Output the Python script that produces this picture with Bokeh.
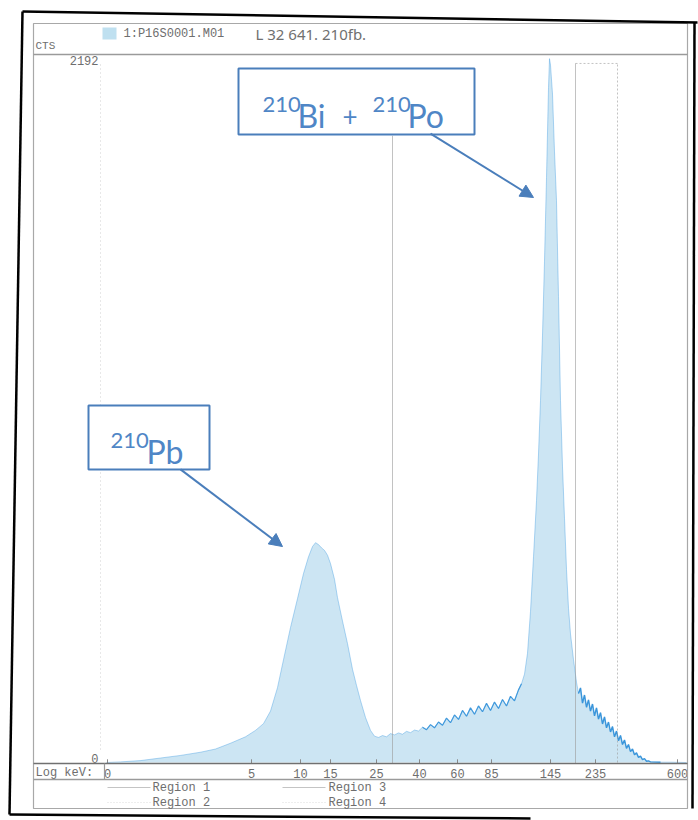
from bokeh.plotting import figure
from bokeh.models import (Range1d, Label, BoxAnnotation, PolyAnnotation, Arrow, NormalHead)
from bokeh.core.properties import value
from bokeh.embed import file_html
from bokeh.resources import INLINE

# ---- spectrum (channel vs counts) ----
channel = [4, 32, 72, 112, 152, 192, 222, 252, 282, 302, 318, 332, 346, 358, 372, 386,
           398, 408, 416, 422, 428, 434, 440, 446, 452, 460, 466, 476, 486, 496, 504,
           512, 522, 532, 540, 548, 556, 564, 572, 580, 588, 596, 604, 612, 620, 628,
           636, 644, 652, 660, 668, 676, 684, 692, 700, 708, 716, 724, 732, 740, 748,
           756, 764, 772, 780, 788, 796, 804, 812, 820, 828, 834, 840, 846, 852, 858,
           864, 868, 872, 876, 880, 884, 888, 890, 892, 896, 900, 904, 908, 912, 916,
           920, 924, 928, 932, 938, 944, 948, 952, 956, 960, 964, 968, 972, 976, 980,
           984, 988, 992, 996, 1000, 1004, 1008, 1012, 1016, 1020, 1024, 1028, 1032,
           1036, 1040, 1044, 1048, 1052, 1056, 1060, 1064, 1068, 1072, 1076, 1080,
           1084, 1088, 1092, 1112, 1132, 1164]
counts = [0, 2, 6, 14, 22, 32, 42, 60, 80, 100, 121, 160, 233, 320, 420, 510,
          588, 640, 672, 684, 678, 668, 660, 645, 619, 570, 513, 440, 370, 290, 240,
          193, 140, 100, 82, 78, 84, 80, 90, 86, 92, 88, 97, 93, 101, 98,
          110, 102, 118, 108, 126, 116, 138, 124, 148, 134, 162, 144, 170, 150, 176,
          158, 184, 162, 188, 168, 196, 176, 206, 192, 226, 245, 275, 340, 470, 640,
          815, 960, 1126, 1330, 1560, 1820, 2100, 2190, 2170, 2080, 1900, 1748, 1450, 1126, 920,
          760, 600, 480, 400, 320, 250, 215, 232, 185, 210, 172, 195, 160, 182, 145,
          170, 135, 155, 120, 142, 108, 126, 95, 112, 80, 98, 68, 84,
          56, 70, 44, 56, 34, 42, 24, 30, 16, 20, 9, 12,
          4, 5, 2, 1, 1, 0]

# x-axis ticks (Log keV labels at their channel positions)
tick_channels = [6, 294, 392, 452, 544, 630, 706, 774, 892, 982, 1146]
tick_labels = ["0", "5", "10", "15", "25", "40", "60", "85", "145", "235", "600"]
y_ticks = [0, 2192]
y_tick_labels = ["0", "2192"]

# region markers (channels, counts); the first marker runs up to the label box
region_solid_x = [576, 942]
region_solid_bottom = [-3, -3]
region_solid_top = [1950, 2175]
region_dot_x0 = [1026, 942]
region_dot_x1 = [1026, 1026]
region_dot_y0 = [0, 2175]
region_dot_y1 = [2175, 2175]

region_names = ["Region 1", "Region 2", "Region 3", "Region 4"]
file_label = "1:P16S0001.M01"
hand_note = "L 32 641. 210fb."

MONO = "Liberation Mono"
GREY = "#6e6e6e"
BLUE = "#4a7ebb"
TBLUE = "#4f86c6"

# the frame fills the page; channel 0 sits at the left edge of the spectrum area
p = figure(width=698, height=820, output_backend="svg", toolbar_location=None,
           title=None, x_range=Range1d(-208, 1188), y_range=Range1d(-180.4, 2370.9),
           x_axis_location=None, y_axis_location=None,
           min_border_left=0, min_border_right=0, min_border_top=0, min_border_bottom=0)
p.background_fill_color = "white"
p.border_fill_color = "white"
p.outline_line_color = None
p.grid.visible = False

# spectrum
p.varea(x=channel, y1=0, y2=counts, fill_color="#cce5f3")
p.line(x=channel, y=counts, line_color="#3f9ae0", line_alpha=0.4, line_width=1)
# the noisy stretches print darker
p.line(x=channel[46:72], y=counts[46:72], line_color="#2f8fd8", line_alpha=0.85,
       line_width=1.2)
p.line(x=channel[97:135], y=counts[97:135], line_color="#2f8fd8", line_alpha=0.9,
       line_width=1.4)

# region markers
p.segment(x0=region_solid_x, y0=region_solid_bottom, x1=region_solid_x,
          y1=region_solid_top, line_color="#9a9a9a", line_alpha=0.6, line_width=1)
p.segment(x0=region_dot_x0, y0=region_dot_y0, x1=region_dot_x1, y1=region_dot_y1,
          line_color="#9a9a9a", line_alpha=0.6, line_width=1, line_dash="2 2")

# axis ticks and tick labels, through the data scales
p.segment(x0=tick_channels, y0=-3, x1=tick_channels, y1=10,
          line_color="#8a8a8a", line_width=1)
p.text(x=tick_channels, y=-34, text=tick_labels, text_font=value(MONO),
       text_font_size="12px", text_color=GREY, text_align="center",
       text_baseline="middle")
p.text(x=-12, y=y_ticks[0], text=[y_tick_labels[0]], text_font=value(MONO),
       text_font_size="12px", text_color=GREY, text_align="right",
       text_baseline="bottom")
p.text(x=-12, y=y_ticks[1], text=[y_tick_labels[1]], text_font=value(MONO),
       text_font_size="12px", text_color=GREY, text_align="right",
       text_baseline="middle", y_offset=3)


def cline(xs, ys, color="#9a9a9a", width=1.2, dash="solid", alpha=1.0):
    p.add_layout(PolyAnnotation(xs=xs, ys=ys, xs_units="canvas", ys_units="canvas",
                                fill_color=None, fill_alpha=0, line_color=color,
                                line_width=width, line_dash=dash, line_alpha=alpha))


def cpoly_box(l, r, t, b, fill=None, line=None, width=1.0, level="annotation"):
    p.add_layout(PolyAnnotation(xs=[l, r, r, l], ys=[t, t, b, b],
                                xs_units="canvas", ys_units="canvas",
                                fill_color=fill, fill_alpha=1 if fill else 0,
                                line_color=line, line_alpha=1 if line else 0,
                                line_width=width, level=level))


def cbox(l, r, t, b, fill=None, line=None, width=1.0, level="annotation"):
    p.add_layout(BoxAnnotation(left=l, right=r, top=t, bottom=b,
                               left_units="canvas", right_units="canvas",
                               top_units="canvas", bottom_units="canvas",
                               fill_color=fill, fill_alpha=1 if fill else 0,
                               line_color=line, line_alpha=1, line_width=width,
                               level=level))


def clabel(x, y, text, font=MONO, size="12px", color=GREY, align="left",
           baseline="middle"):
    p.add_layout(Label(x=x, y=y, x_units="canvas", y_units="canvas", text=text,
                       text_font=font, text_font_size=size, text_color=color,
                       text_align=align, text_baseline=baseline, level="overlay"))


# instrument frame
cbox(33, 687, 23, 808, line="#a8a8a8", width=1.2)
cline([33, 687], [54, 54], color="#9a9a9a", width=1.6)
cline([33, 687], [763, 763], color="#707070", width=1.5)
cline([33, 687], [779, 779], color="#9a9a9a", width=1.3)
cline([104, 104], [763, 779], color="#9a9a9a", width=1.2)
cline([100, 100], [64, 750], color="#d0d0d0", width=1, dash="1 3")

# scan border
cline([22, 697], [11, 22], color="black", width=2.5)
cline([22, 9], [11, 814], color="black", width=2.5)
cline([694, 692], [22, 808], color="black", width=2.5)
cline([9, 530], [814, 818], color="black", width=2.5)

# header
cpoly_box(102, 116, 27, 39, fill="#bfe0f0")
clabel(123, 33, file_label, size="12px")
clabel(255, 33, hand_note, font="Noto Sans", size="15px", color="#707070")
clabel(35, 45, "CTS", size="11px")
clabel(35, 772, "Log keV:")

# region legend
cline([107, 150], [787, 787], color="#c4c4c4", width=1)
cline([107, 150], [802, 802], color="#dddddd", width=1, dash="1 2")
cline([282, 325], [787, 787], color="#c4c4c4", width=1)
cline([282, 325], [802, 802], color="#dddddd", width=1, dash="1 2")
clabel(152, 787, region_names[0])
clabel(152, 802, region_names[1])
clabel(328, 787, region_names[2])
clabel(328, 802, region_names[3])

# annotation boxes
cpoly_box(238, 474, 68, 134, fill="white", line=BLUE, width=2, level="overlay")
cpoly_box(88, 209, 405, 469, fill="white", line=BLUE, width=2, level="overlay")

FONT = "Lato"
clabel(262, 104, "210", font=FONT, size="22px", color=TBLUE, baseline="alphabetic")
clabel(297, 115, "Bi", font=FONT, size="32px", color=TBLUE, baseline="alphabetic")
clabel(342, 115, "+", font=FONT, size="26px", color=TBLUE, baseline="alphabetic")
clabel(372, 104, "210", font=FONT, size="22px", color=TBLUE, baseline="alphabetic")
clabel(407, 115, "Po", font=FONT, size="32px", color=TBLUE, baseline="alphabetic")

clabel(110, 440, "210", font=FONT, size="22px", color=TBLUE, baseline="alphabetic")
clabel(146, 451, "Pb", font=FONT, size="32px", color=TBLUE, baseline="alphabetic")

# arrows (data coordinates)
for xs, ys, xe, ye in [(652, 1957, 858, 1758), (152, 912, 356, 672)]:
    p.add_layout(Arrow(x_start=xs, y_start=ys, x_end=xe, y_end=ye,
                       line_color=BLUE, line_width=2, level="overlay",
                       end=NormalHead(size=13, fill_color=BLUE, line_color=BLUE)))

open("out.html", "w").write(file_html(p, INLINE))
